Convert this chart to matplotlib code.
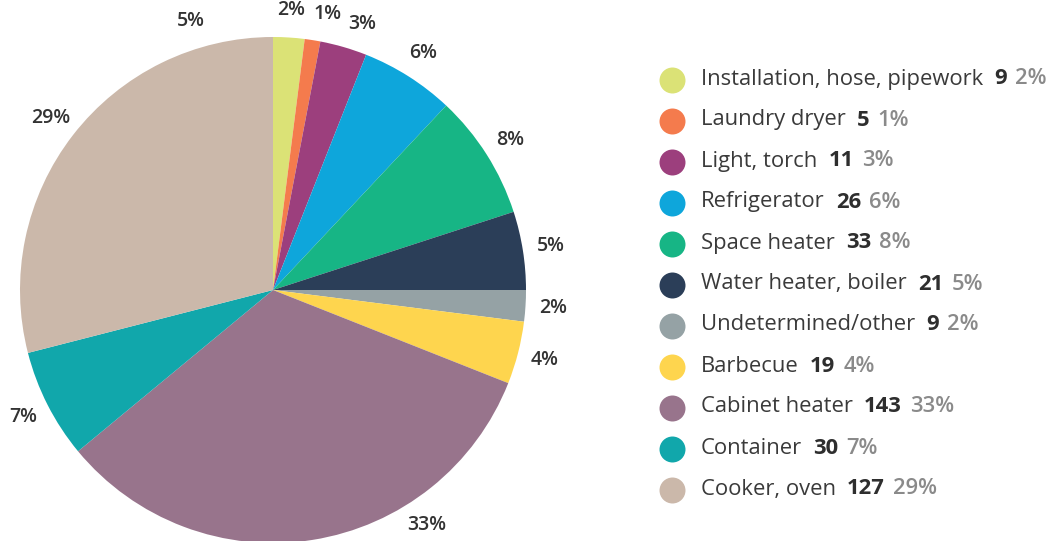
import numpy as np
import matplotlib
matplotlib.use("Agg")
import matplotlib.pyplot as plt

plt.rcParams['font.family'] = ['Open Sans', 'DejaVu Sans']

categories = ["Installation, hose, pipework", "Laundry dryer", "Light, torch",
              "Refrigerator", "Space heater", "Water heater, boiler",
              "Undetermined/other", "Barbecue", "Cabinet heater", "Container",
              "Cooker, oven"]
counts = [9, 5, 11, 26, 33, 21, 9, 19, 143, 30, 127]
colors = ["#dbe276", "#f47b4d", "#9c3f7d", "#0ea6db", "#17b585", "#2b3e58",
          "#95a2a5", "#fed54e", "#98748c", "#11a7ab", "#cbb8aa"]
# stray label sitting above the cooker slice in the original
extra_label = "5%"

total = sum(counts)
pcts = [round(c / total * 100) for c in counts]

W, H = 1054, 541
fig = plt.figure(figsize=(W / 100, H / 100), dpi=100)
ax = fig.add_axes([0, 0, 1, 1])

cx, cy, r = 273, 251, 253
# the slices follow the rounded percentages, as in the original
wedges, texts = ax.pie(pcts, colors=colors, startangle=90, counterclock=False,
                       center=(cx, cy), radius=r, labels=[f"{p}%" for p in pcts],
                       labeldistance=1.11, frame=True,
                       wedgeprops=dict(linewidth=0))
R = r * 1.11
prev = -99.0
for t in texts:
    t.set_ha("center")
    t.set_va("center")
    t.set_fontsize(14)
    t.set_fontweight("semibold")
    t.set_color("#333333")
    x, y = t.get_position()
    # angle clockwise from the top, in degrees
    th = np.degrees(np.arctan2(x - cx, y - cy)) % 360
    th = max(th, prev + 7.5)  # keep small neighbouring labels apart
    if cy + R * np.cos(np.radians(th)) < 16:
        # slide the label along the circle so it stays inside the figure
        a = np.degrees(np.arccos((16 - cy) / R))
        th = a if abs(th - a) < abs(360 - a - th) else 360 - a
    prev = th
    t.set_position((cx + R * np.sin(np.radians(th)),
                    cy + R * np.cos(np.radians(th))))

th = np.radians(-17)
ax.text(cx + R * np.sin(th), cy + R * np.cos(th), extra_label, ha="center",
        va="center", fontsize=14, fontweight="semibold", color="#333333")

# legend
y0, dy = H - 79, 41
for i, (name, c, p, col) in enumerate(zip(categories, counts, pcts, colors)):
    y = y0 - i * dy
    ax.scatter([672], [y - 1], s=350, color=col, linewidths=0, zorder=3)
    t1 = ax.text(701, y, name, ha="left", va="center", fontsize=15.8,
                 color="#3a3a3a")
    t2 = ax.annotate(str(c), xy=(1, 0.5), xycoords=t1, xytext=(8, 0),
                     textcoords="offset points", ha="left", va="center",
                     fontsize=15.8, fontweight="bold", color="#2e2e2e")
    ax.annotate(f"{p}%", xy=(1, 0.5), xycoords=t2, xytext=(6, 0),
                textcoords="offset points", ha="left", va="center",
                fontsize=15.8, fontweight="semibold", color="#8a8a8a")

ax.set_xlim(0, W)
ax.set_ylim(0, H)
ax.set_aspect("equal")
ax.axis("off")

fig.savefig("out.png", dpi=100)
